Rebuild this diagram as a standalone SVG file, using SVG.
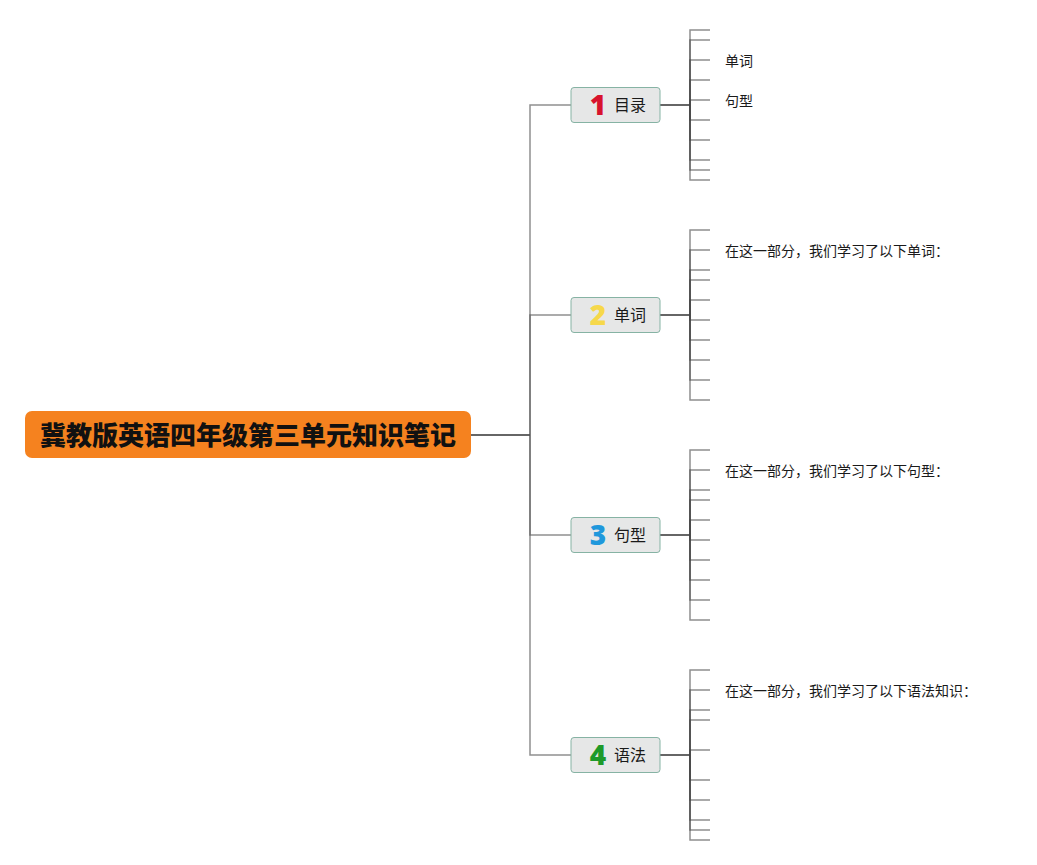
<svg xmlns="http://www.w3.org/2000/svg" width="1037" height="865" viewBox="0 0 1037 865">
<style>
.bg{fill:#ffffff}
.conn{fill:none;stroke:#555;stroke-width:1.5;stroke-opacity:0.65}
.main{fill:none;stroke:#333;stroke-width:1.5}
.tick{fill:none;stroke:#444;stroke-width:1.5;stroke-opacity:0.6}
.node rect{fill:#e6e7e7;stroke:#86b3a4;stroke-width:1}
.lbl{font-family:"Noto Sans CJK SC","Noto Sans",sans-serif;font-size:16px;fill:#1a1a1a}
.num{font-family:"Open Sans","Noto Sans",sans-serif;font-size:28px;font-weight:800;text-anchor:middle}
.sub{font-family:"Noto Sans CJK SC",sans-serif;font-size:14px;fill:#1a1a1a}
.root rect{fill:#f5821f}
.root text{font-family:"Noto Sans CJK SC",sans-serif;font-size:26px;font-weight:900;fill:#111;text-anchor:middle}
</style>
<rect class="bg" x="0" y="0" width="1037" height="865"/>
<g id="connectors">
<path class="main" d="M471 435 H530"/>
<path class="conn" d="M530 435 V105 H571"/>
<path class="conn" d="M530 435 V315 H571"/>
<path class="conn" d="M530 435 V535 H571"/>
<path class="conn" d="M530 435 V755 H571"/>
<path class="main" d="M660 105 H690"/>
<path class="main" d="M660 315 H690"/>
<path class="main" d="M660 535 H690"/>
<path class="main" d="M660 755 H690"/>
<g id="ticks1">
<path class="tick" d="M690 105 V30 H710"/><path class="tick" d="M690 105 V40 H710"/><path class="tick" d="M690 105 V60 H710"/><path class="tick" d="M690 105 V80 H710"/><path class="tick" d="M690 105 V100 H710"/><path class="tick" d="M690 105 V120 H710"/><path class="tick" d="M690 105 V140 H710"/><path class="tick" d="M690 105 V160 H710"/><path class="tick" d="M690 105 V170 H710"/><path class="tick" d="M690 105 V180 H710"/>
</g>
<g id="ticks2">
<path class="tick" d="M690 315 V230 H710"/><path class="tick" d="M690 315 V250 H710"/><path class="tick" d="M690 315 V270 H710"/><path class="tick" d="M690 315 V280 H710"/><path class="tick" d="M690 315 V300 H710"/><path class="tick" d="M690 315 V320 H710"/><path class="tick" d="M690 315 V340 H710"/><path class="tick" d="M690 315 V360 H710"/><path class="tick" d="M690 315 V380 H710"/><path class="tick" d="M690 315 V400 H710"/>
</g>
<g id="ticks3">
<path class="tick" d="M690 535 V450 H710"/><path class="tick" d="M690 535 V470 H710"/><path class="tick" d="M690 535 V490 H710"/><path class="tick" d="M690 535 V500 H710"/><path class="tick" d="M690 535 V520 H710"/><path class="tick" d="M690 535 V540 H710"/><path class="tick" d="M690 535 V560 H710"/><path class="tick" d="M690 535 V580 H710"/><path class="tick" d="M690 535 V600 H710"/><path class="tick" d="M690 535 V620 H710"/>
</g>
<g id="ticks4">
<path class="tick" d="M690 755 V670 H710"/><path class="tick" d="M690 755 V690 H710"/><path class="tick" d="M690 755 V710 H710"/><path class="tick" d="M690 755 V720 H710"/><path class="tick" d="M690 755 V750 H710"/><path class="tick" d="M690 755 V780 H710"/><path class="tick" d="M690 755 V800 H710"/><path class="tick" d="M690 755 V820 H710"/><path class="tick" d="M690 755 V830 H710"/><path class="tick" d="M690 755 V840 H710"/>
</g>
</g>
<g id="root" class="root">
<rect x="25" y="411" width="446" height="47" rx="7"/>
<text x="248" y="445">冀教版英语四年级第三单元知识笔记</text>
</g>
<g id="node1" class="node">
<rect x="571" y="87.5" width="89" height="35" rx="3"/>
<text class="num" x="598" y="115" fill="#d8132d">1</text>
<text class="lbl" x="614" y="111">目录</text>
</g>
<g id="node2" class="node">
<rect x="571" y="297.5" width="89" height="35" rx="3"/>
<text class="num" x="598" y="325" fill="#f6d84a">2</text>
<text class="lbl" x="614" y="321">单词</text>
</g>
<g id="node3" class="node">
<rect x="571" y="517.5" width="89" height="35" rx="3"/>
<text class="num" x="598" y="545" fill="#1f98dc">3</text>
<text class="lbl" x="614" y="541">句型</text>
</g>
<g id="node4" class="node">
<rect x="571" y="737.5" width="89" height="35" rx="3"/>
<text class="num" x="598" y="765" fill="#1e9a2a">4</text>
<text class="lbl" x="614" y="761">语法</text>
</g>
<g id="sub1">
<text class="sub" x="725" y="66">单词</text>
<text class="sub" x="725" y="106">句型</text>
</g>
<g id="sub2"><text class="sub" x="725" y="256">在这一部分，我们学习了以下单词：</text></g>
<g id="sub3"><text class="sub" x="725" y="476">在这一部分，我们学习了以下句型：</text></g>
<g id="sub4"><text class="sub" x="725" y="696">在这一部分，我们学习了以下语法知识：</text></g>
</svg>
